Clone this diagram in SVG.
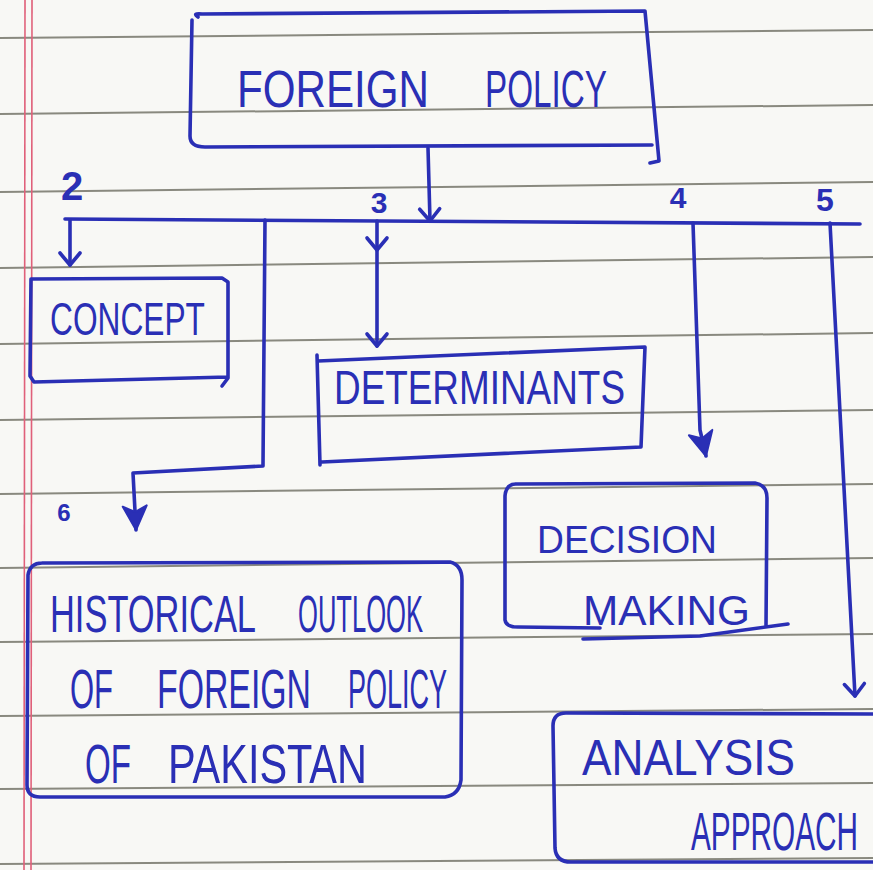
<svg xmlns="http://www.w3.org/2000/svg" width="873" height="870" viewBox="0 0 873 870">
<defs>
<style>
.rule{stroke:#75756a;stroke-width:2;fill:none;opacity:0.85}
.margin{stroke:#e0607a;stroke-width:1.6;fill:none}
.ink{stroke:#2a2fb5;stroke-width:3.6;fill:none;stroke-linecap:round;stroke-linejoin:round}
.t{font-family:"Liberation Sans",Arial,sans-serif;fill:#2a2fb5}
.num{font-family:"Liberation Sans",Arial,sans-serif;fill:#2a2fb5;font-weight:bold;text-anchor:middle}
</style>
<marker id="chev" markerUnits="userSpaceOnUse" viewBox="0 0 30 30" markerWidth="30" markerHeight="30" refX="16" refY="15" orient="auto">
<path d="M4,5 L16,15 L4,25" fill="none" stroke="#2a2fb5" stroke-width="3.6" stroke-linecap="round" stroke-linejoin="round"/>
</marker>
<marker id="tri" markerUnits="userSpaceOnUse" viewBox="0 0 30 30" markerWidth="30" markerHeight="30" refX="26" refY="15" orient="auto">
<path d="M2,3 L26,15 L2,27 L8,15 Z" fill="#2a2fb5" stroke="#2a2fb5" stroke-width="2" stroke-linejoin="round"/>
</marker>
</defs>
<rect width="873" height="870" fill="#f8f8f5"/>
<g id="paper">
<path class="rule" d="M0,38 L873,30"/>
<path class="rule" d="M0,114 L873,105"/>
<path class="rule" d="M0,192 L873,182"/>
<path class="rule" d="M0,268 L873,257"/>
<path class="rule" d="M0,344 L873,333"/>
<path class="rule" d="M0,420 L873,410"/>
<path class="rule" d="M0,494 L873,484"/>
<path class="rule" d="M0,568 L873,558"/>
<path class="rule" d="M0,642 L873,634"/>
<path class="rule" d="M0,716 L873,709"/>
<path class="rule" d="M0,789 L873,783"/>
<path class="rule" d="M0,864 L873,858"/>
<path class="margin" d="M25,0 L24,870"/>
<path class="margin" d="M32,0 L31,870"/>
</g>
<g id="connectors">
<path class="ink" d="M428,148 L430,221" marker-end="url(#chev)"/>
<path class="ink" d="M65,219 L860,224"/>
<path class="ink" d="M70,220 L70,265" marker-end="url(#chev)"/>
<path class="ink" d="M377,221 L377,250 L377,346" marker-mid="url(#chev)" marker-end="url(#chev)"/>
<path class="ink" d="M265,220 L263,466 L133,473 L136,530" marker-end="url(#tri)"/>
<path class="ink" d="M693,223 L700,430 L706,456" marker-end="url(#tri)"/>
<path class="ink" d="M830,223 L855,696" marker-end="url(#chev)"/>
</g>
<g id="n_foreign_policy">
<path class="ink" d="M198,17 Q192,13 202,14 L645,11 L659,161 L650,163"/>
<path class="ink" d="M652,145 L205,147 Q190,147 190,136 L192,20"/>
<text class="t" y="107" font-size="33" transform="matrix(1 0 0 1.55 0 -58.85)"><tspan x="237" textLength="192" lengthAdjust="spacingAndGlyphs">FOREIGN</tspan> <tspan x="485" textLength="122" lengthAdjust="spacingAndGlyphs">POLICY</tspan></text>
</g>
<g id="labels">
<text class="num" x="72" y="200" font-size="40">2</text>
<text class="num" x="379" y="213" font-size="30">3</text>
<text class="num" x="678" y="208" font-size="30">4</text>
<text class="num" x="825" y="211" font-size="32">5</text>
<text class="num" x="64" y="521" font-size="24">6</text>
</g>
<g id="n_concept">
<path class="ink" d="M31,279 L222,278 L228,282 L228,378 L222,386 M228,377 L34,382 L30,376 L31,279"/>
<text class="t" x="50" y="335" font-size="31" textLength="155" lengthAdjust="spacingAndGlyphs" transform="matrix(1 0 0 1.49 0 -164.15)">CONCEPT</text>
</g>
<g id="n_determinants">
<path class="ink" d="M317,355 L320,465 M318,361 L645,347 L641,447 L322,462"/>
<text class="t" x="334" y="404" font-size="36" textLength="291" lengthAdjust="spacingAndGlyphs" transform="matrix(1 0 0 1.36 0 -145.44)">DETERMINANTS</text>
</g>
<g id="n_decision_making">
<path class="ink" d="M515,484 L755,483 Q767,485 767,498 L766,626 M505,620 L505,496 Q506,484 516,484 M505,620 Q506,627 518,627 L600,628 M583,639 L700,636 L788,624"/>
<text class="t" x="537" y="553" font-size="37" textLength="180" lengthAdjust="spacingAndGlyphs" transform="matrix(1 0 0 1.06 0 -33.18)">DECISION</text>
<text class="t" x="583" y="625" font-size="42" textLength="167" lengthAdjust="spacingAndGlyphs">MAKING</text>
</g>
<g id="n_historical">
<path class="ink" d="M42,563 L450,562 Q462,565 462,580 L461,780 Q459,795 445,797 L40,797 Q27,797 27,785 L28,575 Q30,563 42,563"/>
<text class="t" y="632" font-size="25" transform="matrix(1 0 0 2.1 0 -695.2)"><tspan x="50" textLength="206" lengthAdjust="spacingAndGlyphs">HISTORICAL</tspan> <tspan x="298" textLength="125" lengthAdjust="spacingAndGlyphs">OUTLOOK</tspan></text>
<text class="t" y="708" font-size="27" transform="matrix(1 0 0 2.07 0 -757.56)"><tspan x="70" textLength="43" lengthAdjust="spacingAndGlyphs">OF</tspan> <tspan x="157" textLength="154" lengthAdjust="spacingAndGlyphs">FOREIGN</tspan> <tspan x="348" textLength="99" lengthAdjust="spacingAndGlyphs">POLICY</tspan></text>
<text class="t" y="783" font-size="33" transform="matrix(1 0 0 1.7 0 -548.1)"><tspan x="85" textLength="46" lengthAdjust="spacingAndGlyphs">OF</tspan> <tspan x="168" textLength="199" lengthAdjust="spacingAndGlyphs">PAKISTAN</tspan></text>
</g>
<g id="n_analysis_approach">
<path class="ink" d="M880,714 L566,713 Q553,713 553,726 L555,848 Q556,862 571,862 L880,862"/>
<text class="t" x="582" y="775" font-size="43" textLength="213" lengthAdjust="spacingAndGlyphs" transform="matrix(1 0 0 1.14 0 -108.5)">ANALYSIS</text>
<text class="t" x="691" y="850" font-size="29" textLength="167" lengthAdjust="spacingAndGlyphs" transform="matrix(1 0 0 1.83 0 -705.5)">APPROACH</text>
</g>
</svg>
